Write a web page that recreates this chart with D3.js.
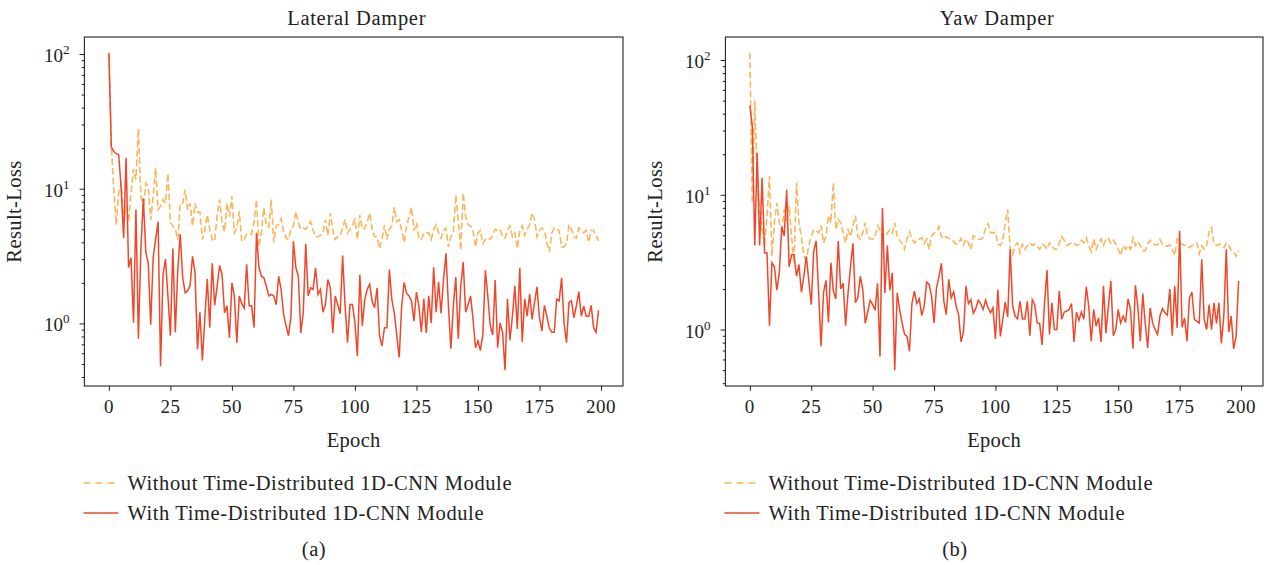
<!DOCTYPE html>
<html>
<head>
<meta charset="utf-8">
<script src="https://cdn.jsdelivr.net/npm/d3@7"></script>
<style>
  body { margin: 0; background: #fff; }
  svg text { font-family: "Liberation Serif", "DejaVu Serif", serif; fill: #222; }
</style>
</head>
<body>
<div id="chart"></div>
<script>
// Loss per epoch (epochs 0..199)
const lateralWithout = [
  100, 20.6, 9.8, 5.4, 9.4, 11.0, 5.7, 7.5, 5.7, 9.3,
  14, 11.7, 28, 8.8, 7.0, 11.0, 10.4, 5.9, 8.8, 14.2,
  7.0, 7.4, 8.3, 7.8, 13, 5.6, 5.3, 5.0, 4.2, 7.8,
  7.8, 9.8, 7.0, 7.8, 5.3, 7.8, 6.7, 6.7, 4.2, 5.0,
  6.4, 5.0, 4.2, 4.07, 6.4, 8.3, 5.6, 4.8, 7.8, 6.2,
  8.8, 4.7, 5.1, 6.8, 4.07, 4.2, 4.6, 4.6, 4.6, 5.7,
  8.3, 3.7, 4.8, 7.2, 5.3, 5.2, 8.3, 4.0, 5.3, 5.4,
  6.0, 4.9, 4.3, 4.2, 5.0, 5.3, 6.8, 5.6, 5.0, 5.1,
  5.0, 5.3, 5.7, 4.9, 4.4, 4.4, 4.5, 4.7, 5.9, 4.5,
  6.6, 4.9, 4.2, 4.4, 4.5, 5.1, 5.9, 4.7, 5.0, 5.4,
  5.9, 4.2, 6.4, 5.0, 5.1, 5.7, 6.6, 5.0, 4.4, 4.4,
  3.6, 4.2, 5.4, 4.2, 5.0, 5.3, 7.3, 5.7, 5.9, 4.9,
  4.0, 5.3, 6.2, 7.3, 4.9, 5.6, 4.3, 4.2, 4.7, 4.7,
  4.7, 4.2, 5.0, 5.4, 4.7, 4.3, 4.9, 5.1, 3.7, 4.4,
  4.7, 9.0, 5.9, 3.5, 9.3, 6.2, 5.4, 5.3, 4.9, 3.7,
  4.7, 4.9, 3.9, 4.2, 4.3, 4.2, 4.5, 5.0, 4.9, 5.0,
  4.4, 4.3, 4.9, 5.3, 4.4, 4.7, 3.6, 4.9, 5.3, 4.5,
  5.0, 5.4, 6.6, 5.9, 4.4, 4.9, 5.1, 4.9, 4.0, 3.4,
  4.7, 5.1, 5.0, 4.9, 3.7, 3.7, 3.9, 5.4, 5.0, 4.4,
  4.3, 5.1, 4.9, 4.7, 4.9, 4.0, 4.9, 4.9, 4.5, 4.1
];

const lateralWith = [
  102, 20.4, 18.9, 18.2, 17.9, 10, 4.3, 17, 2.6, 3.07,
  1.01, 7.0, 0.77, 3.5, 8.5, 3.4, 2.8, 0.98, 3.1, 4.2,
  5.7, 0.48, 2.3, 3.0, 1.6, 0.81, 3.6, 0.86, 2.5, 4.6,
  2.2, 1.69, 1.75, 1.9, 3.15, 2.4, 0.64, 1.21, 0.53, 1.1,
  2.14, 0.93, 2.8, 1.36, 1.9, 2.7, 2.3, 1.2, 1.35, 0.78,
  2.0, 1.6, 0.72, 1.6, 1.4, 1.3, 2.75, 1.35, 1.35, 0.93,
  4.7, 2.6, 2.24, 2.18, 1.89, 1.6, 1.64, 1.6, 1.38, 2.24,
  1.79, 1.17, 0.96, 0.81, 1.13, 4.07, 2.59, 2.24, 0.85, 1.2,
  3.9, 1.6, 1.84, 1.79, 2.59, 1.64, 1.79, 1.21, 1.38, 2.12,
  1.84, 0.85, 1.6, 1.38, 1.18, 3.19, 1.35, 0.72, 1.38, 1.38,
  1.01, 0.57, 2.3, 0.96, 1.51, 1.79, 1.95, 1.46, 1.31, 1.84,
  0.81, 0.68, 0.93, 0.93, 2.51, 1.51, 1.2, 0.81, 0.56, 1.35,
  2.02, 1.67, 1.6, 1.46, 1.04, 1.71, 1.35, 0.86, 1.52, 0.85,
  1.6, 1.01, 2.61, 1.21, 2.03, 1.19, 2.12, 3.31, 1.35, 0.65,
  1.35, 2.21, 0.77, 1.89, 2.85, 1.21, 1.38, 1.6, 1.07, 0.66,
  0.74, 0.63, 0.83, 2.48, 1.6, 0.96, 0.82, 2.1, 0.66, 1.01,
  0.86, 0.45, 1.52, 0.75, 1.13, 1.9, 0.91, 2.59, 0.73, 1.52,
  1.13, 1.65, 1.07, 1.43, 1.87, 1.1, 0.88, 1.36, 1.13, 0.92,
  0.86, 0.86, 1.51, 1.47, 2.18, 1.01, 0.72, 1.43, 1.47, 1.1,
  1.35, 1.72, 1.13, 1.34, 1.13, 1.13, 1.36, 0.93, 0.86, 1.25
];

const yawWithout = [
  113, 8.7, 50, 14, 7.8, 5.5, 4.2, 7.0, 13.8, 3.5,
  6.2, 8.7, 6.2, 5.5, 7.8, 6.2, 8.3, 4.9, 3.1, 12.3,
  6.2, 4.9, 3.5, 3.3, 4.2, 4.9, 5.5, 5.4, 5.2, 5.9,
  4.4, 4.9, 7.0, 6.2, 12.3, 5.5, 6.6, 6.2, 5.2, 4.4,
  5.5, 4.9, 5.9, 7.0, 4.9, 4.7, 5.2, 6.2, 4.9, 4.7,
  4.7, 4.9, 5.9, 5.5, 4.8, 4.9, 5.2, 5.5, 5.2, 6.2,
  4.9, 4.6, 4.4, 3.94, 4.7, 5.3, 4.7, 4.4, 4.6, 4.7,
  4.8, 4.35, 4.7, 3.94, 4.95, 5.2, 5.3, 5.8, 4.9, 4.7,
  4.9, 4.75, 4.7, 4.5, 4.3, 4.4, 4.75, 4.25, 4.7, 4.4,
  3.94, 4.95, 4.85, 4.7, 4.65, 4.85, 5.7, 6.1, 5.25, 5.2,
  5.3, 4.3, 4.2, 4.6, 6.2, 7.8, 3.94, 3.6, 4.2, 4.4,
  3.7, 4.3, 3.94, 4.2, 4.4, 4.2, 4.3, 4.2, 3.94, 4.3,
  4.2, 3.94, 4.4, 4.2, 3.94, 3.94, 4.4, 4.9, 4.6, 4.2,
  4.3, 4.4, 4.4, 4.2, 4.3, 4.6, 4.4, 4.8, 4.2, 3.8,
  4.7, 3.94, 4.4, 4.7, 4.2, 4.7, 4.75, 4.35, 4.6, 4.3,
  3.94, 3.55, 4.2, 3.94, 4.2, 3.94, 4.8, 4.2, 4.5, 4.2,
  3.85, 3.85, 4.3, 4.6, 4.35, 4.25, 4.25, 4.65, 4.3, 4.2,
  4.15, 4.25, 3.94, 3.55, 4.7, 4.4, 4.3, 4.2, 4.2, 4.05,
  4.2, 4.3, 4.4, 3.65, 4.2, 3.94, 4.2, 5.3, 5.7, 4.3,
  4.2, 4.3, 4.25, 4.05, 4.4, 4.2, 3.85, 3.8, 3.5, 3.85
];

const yawWith = [
  46, 32.5, 4.2, 20.4, 4.2, 13.4, 3.7, 3.7, 1.07, 3.13,
  2.92, 1.96, 2.64, 5.8, 4.94, 10.9, 2.92, 3.59, 3.59, 2.49,
  3.04, 1.89, 2.49, 3.5, 2.32, 1.53, 3.82, 4.54, 1.9, 0.75,
  1.87, 2.32, 1.13, 3.13, 1.93, 1.69, 4.54, 2.0, 2.2, 1.07,
  1.87, 2.95, 4.36, 1.58, 1.72, 2.49, 1.96, 1.11, 1.35, 1.65,
  1.53, 1.39, 2.2, 0.63, 8.0, 1.87, 4.2, 1.96, 2.64, 0.5,
  1.87, 1.41, 1.12, 0.92, 0.89, 0.69, 1.56, 1.93, 1.56, 1.69,
  1.27, 1.49, 2.25, 2.16, 1.77, 1.12, 2.04, 2.47, 3.1, 1.62,
  1.29, 2.36, 1.72, 1.9, 1.49, 1.29, 0.81, 0.96, 2.1, 1.56,
  1.67, 1.32, 1.43, 1.65, 1.56, 1.41, 1.65, 1.45, 1.33, 1.45,
  0.85, 1.98, 0.89, 1.19, 1.6, 1.24, 3.94, 1.51, 1.26, 1.2,
  1.62, 1.2, 1.2, 1.62, 0.9, 1.67, 1.53, 1.12, 1.11, 0.77,
  1.58, 2.76, 0.92, 1.58, 1.0, 1.0, 1.93, 1.19, 1.35, 1.37,
  1.41, 1.56, 0.81, 1.35, 1.17, 1.35, 1.19, 2.08, 1.49, 0.82,
  1.41, 1.06, 1.22, 0.81, 2.1, 0.94, 1.49, 2.29, 0.9, 1.0,
  1.41, 1.12, 1.26, 1.13, 1.69, 1.41, 0.72, 2.13, 1.47, 0.82,
  1.85, 1.11, 0.73, 1.45, 1.12, 1.0, 0.92, 1.26, 1.43, 1.33,
  1.28, 2.0, 0.9, 2.1, 1.03, 5.4, 1.04, 1.22, 0.82, 1.72,
  1.9, 1.19, 1.15, 1.12, 3.32, 1.19, 1.0, 1.53, 1.0, 1.58,
  1.11, 1.58, 0.79, 1.26, 3.94, 0.96, 1.26, 0.72, 0.89, 2.29
];

const xTicks = [0, 25, 50, 75, 100, 125, 150, 175, 200];
const seriesNames = ["Without Time-Distributed 1D-CNN Module", "With Time-Distributed 1D-CNN Module"];
const panelTitles = ["Lateral Damper", "Yaw Damper"];
const panelTags = ["(a)", "(b)"];

const width = 1267;
const height = 565;
const colorWithout = "#fdb55a";
const colorWith = "#f0472b";

const svg = d3.select("#chart")
  .append("svg")
  .attr("width", width)
  .attr("height", height);

/**
 * Draw one loss panel with log y axis, both series and legend underneath
 */
function drawPanel(opts) {
  const { left, right, top, bottom, without, withMod, title, tag, tagX } = opts;
  const g = svg.append("g");

  // matplotlib-like 5% margins (in log space for y)
  const n = without.length;
  const xPad = (n - 1) * 0.05;
  const xScale = d3.scaleLinear()
    .domain([-xPad, n - 1 + xPad])
    .range([left, right]);

  const all = without.concat(withMod);
  const lmin = Math.log10(d3.min(all));
  const lmax = Math.log10(d3.max(all));
  const lpad = (lmax - lmin) * 0.05;
  const yScale = d3.scaleLog()
    .domain([Math.pow(10, lmin - lpad), Math.pow(10, lmax + lpad)])
    .range([bottom, top]);

  // Minor / major log ticks
  const [d0, d1] = yScale.domain();
  const majors = [];
  const minors = [];
  for (let k = Math.floor(Math.log10(d0)); k <= Math.ceil(Math.log10(d1)); k++) {
    for (let m = 1; m < 10; m++) {
      const v = m * Math.pow(10, k);
      if (v < d0 || v > d1) continue;
      if (m === 1) majors.push(k);
      else minors.push(v);
    }
  }

  const yMinor = d3.axisLeft(yScale).tickValues(minors).tickSize(2.7).tickFormat(() => "");
  const yMajor = d3.axisLeft(yScale).tickValues(majors.map((k) => Math.pow(10, k))).tickSize(4.8).tickFormat(() => "");
  [yMinor, yMajor].forEach((ax) => {
    const a = g.append("g").attr("transform", `translate(${left},0)`).call(ax);
    a.select(".domain").remove();
    a.selectAll("line").attr("stroke", "#222").attr("stroke-width", 1);
  });

  // 10^k labels
  majors.forEach((k) => {
    const t = g.append("text")
      .attr("x", left - 15)
      .attr("y", yScale(Math.pow(10, k)) + 8)
      .attr("text-anchor", "end")
      .style("font-size", "19px");
    t.append("tspan").text("10");
    t.append("tspan").attr("dy", -8).style("font-size", "13px").text(k);
  });

  // x axis
  const xAxis = d3.axisBottom(xScale).tickValues(xTicks).tickSize(4.8).tickFormat(() => "");
  const xa = g.append("g").attr("transform", `translate(0,${bottom})`).call(xAxis);
  xa.select(".domain").remove();
  xa.selectAll("line").attr("stroke", "#222").attr("stroke-width", 1);

  g.selectAll(".xlab")
    .data(xTicks)
    .enter()
    .append("text")
    .attr("x", (d) => xScale(d))
    .attr("y", bottom + 27)
    .attr("text-anchor", "middle")
    .style("font-size", "19px")
    .style("letter-spacing", "0.5px")
    .text((d) => d);

  // Lines
  const line = d3.line()
    .x((d, i) => xScale(i))
    .y((d) => yScale(d));

  g.append("path")
    .datum(without)
    .attr("d", line)
    .attr("fill", "none")
    .attr("stroke", colorWithout)
    .attr("stroke-width", 1.6)
    .attr("stroke-dasharray", "6.5,3");

  g.append("path")
    .datum(withMod)
    .attr("d", line)
    .attr("fill", "none")
    .attr("stroke", colorWith)
    .attr("stroke-width", 1.5);

  // Frame
  g.append("rect")
    .attr("x", left)
    .attr("y", top)
    .attr("width", right - left)
    .attr("height", bottom - top)
    .attr("fill", "none")
    .attr("stroke", "#222")
    .attr("stroke-width", 1.1);

  // Titles and labels
  const cx = (left + right) / 2;
  g.append("text").attr("x", cx + 3).attr("y", 25).attr("text-anchor", "middle")
    .style("font-size", "20.5px").style("letter-spacing", "0.7px").text(title);
  g.append("text").attr("x", cx).attr("y", bottom + 61).attr("text-anchor", "middle")
    .style("font-size", "20.5px").style("letter-spacing", "0.3px").text("Epoch");
  g.append("text")
    .attr("transform", `translate(${left - 63},${(top + bottom) / 2}) rotate(-90)`)
    .attr("text-anchor", "middle")
    .style("font-size", "20.5px")
    .style("letter-spacing", "0.4px")
    .text("Result-Loss");

  // Legend
  const lx = left - 1;
  [0, 1].forEach((i) => {
    const ly = 483 + i * 30;
    g.append("line")
      .attr("x1", lx).attr("x2", lx + 35)
      .attr("y1", ly).attr("y2", ly)
      .attr("stroke", i === 0 ? colorWithout : colorWith)
      .attr("stroke-width", 1.5)
      .attr("stroke-dasharray", i === 0 ? "7,5" : null);
    g.append("text")
      .attr("x", lx + 44)
      .attr("y", ly + 6.5)
      .style("font-size", "20.5px")
      .style("letter-spacing", "0.6px")
      .text(seriesNames[i]);
  });

  g.append("text").attr("x", tagX).attr("y", 556).attr("text-anchor", "middle")
    .style("font-size", "20.5px").style("letter-spacing", "0.5px").text(tag);
}

drawPanel({ left: 84.4, right: 623, top: 37, bottom: 386, without: lateralWithout, withMod: lateralWith,
  title: panelTitles[0], tag: panelTags[0], tagX: 314 });
drawPanel({ left: 725.4, right: 1263, top: 37, bottom: 386, without: yawWithout, withMod: yawWith,
  title: panelTitles[1], tag: panelTags[1], tagX: 955 });
</script>
</body>
</html>
